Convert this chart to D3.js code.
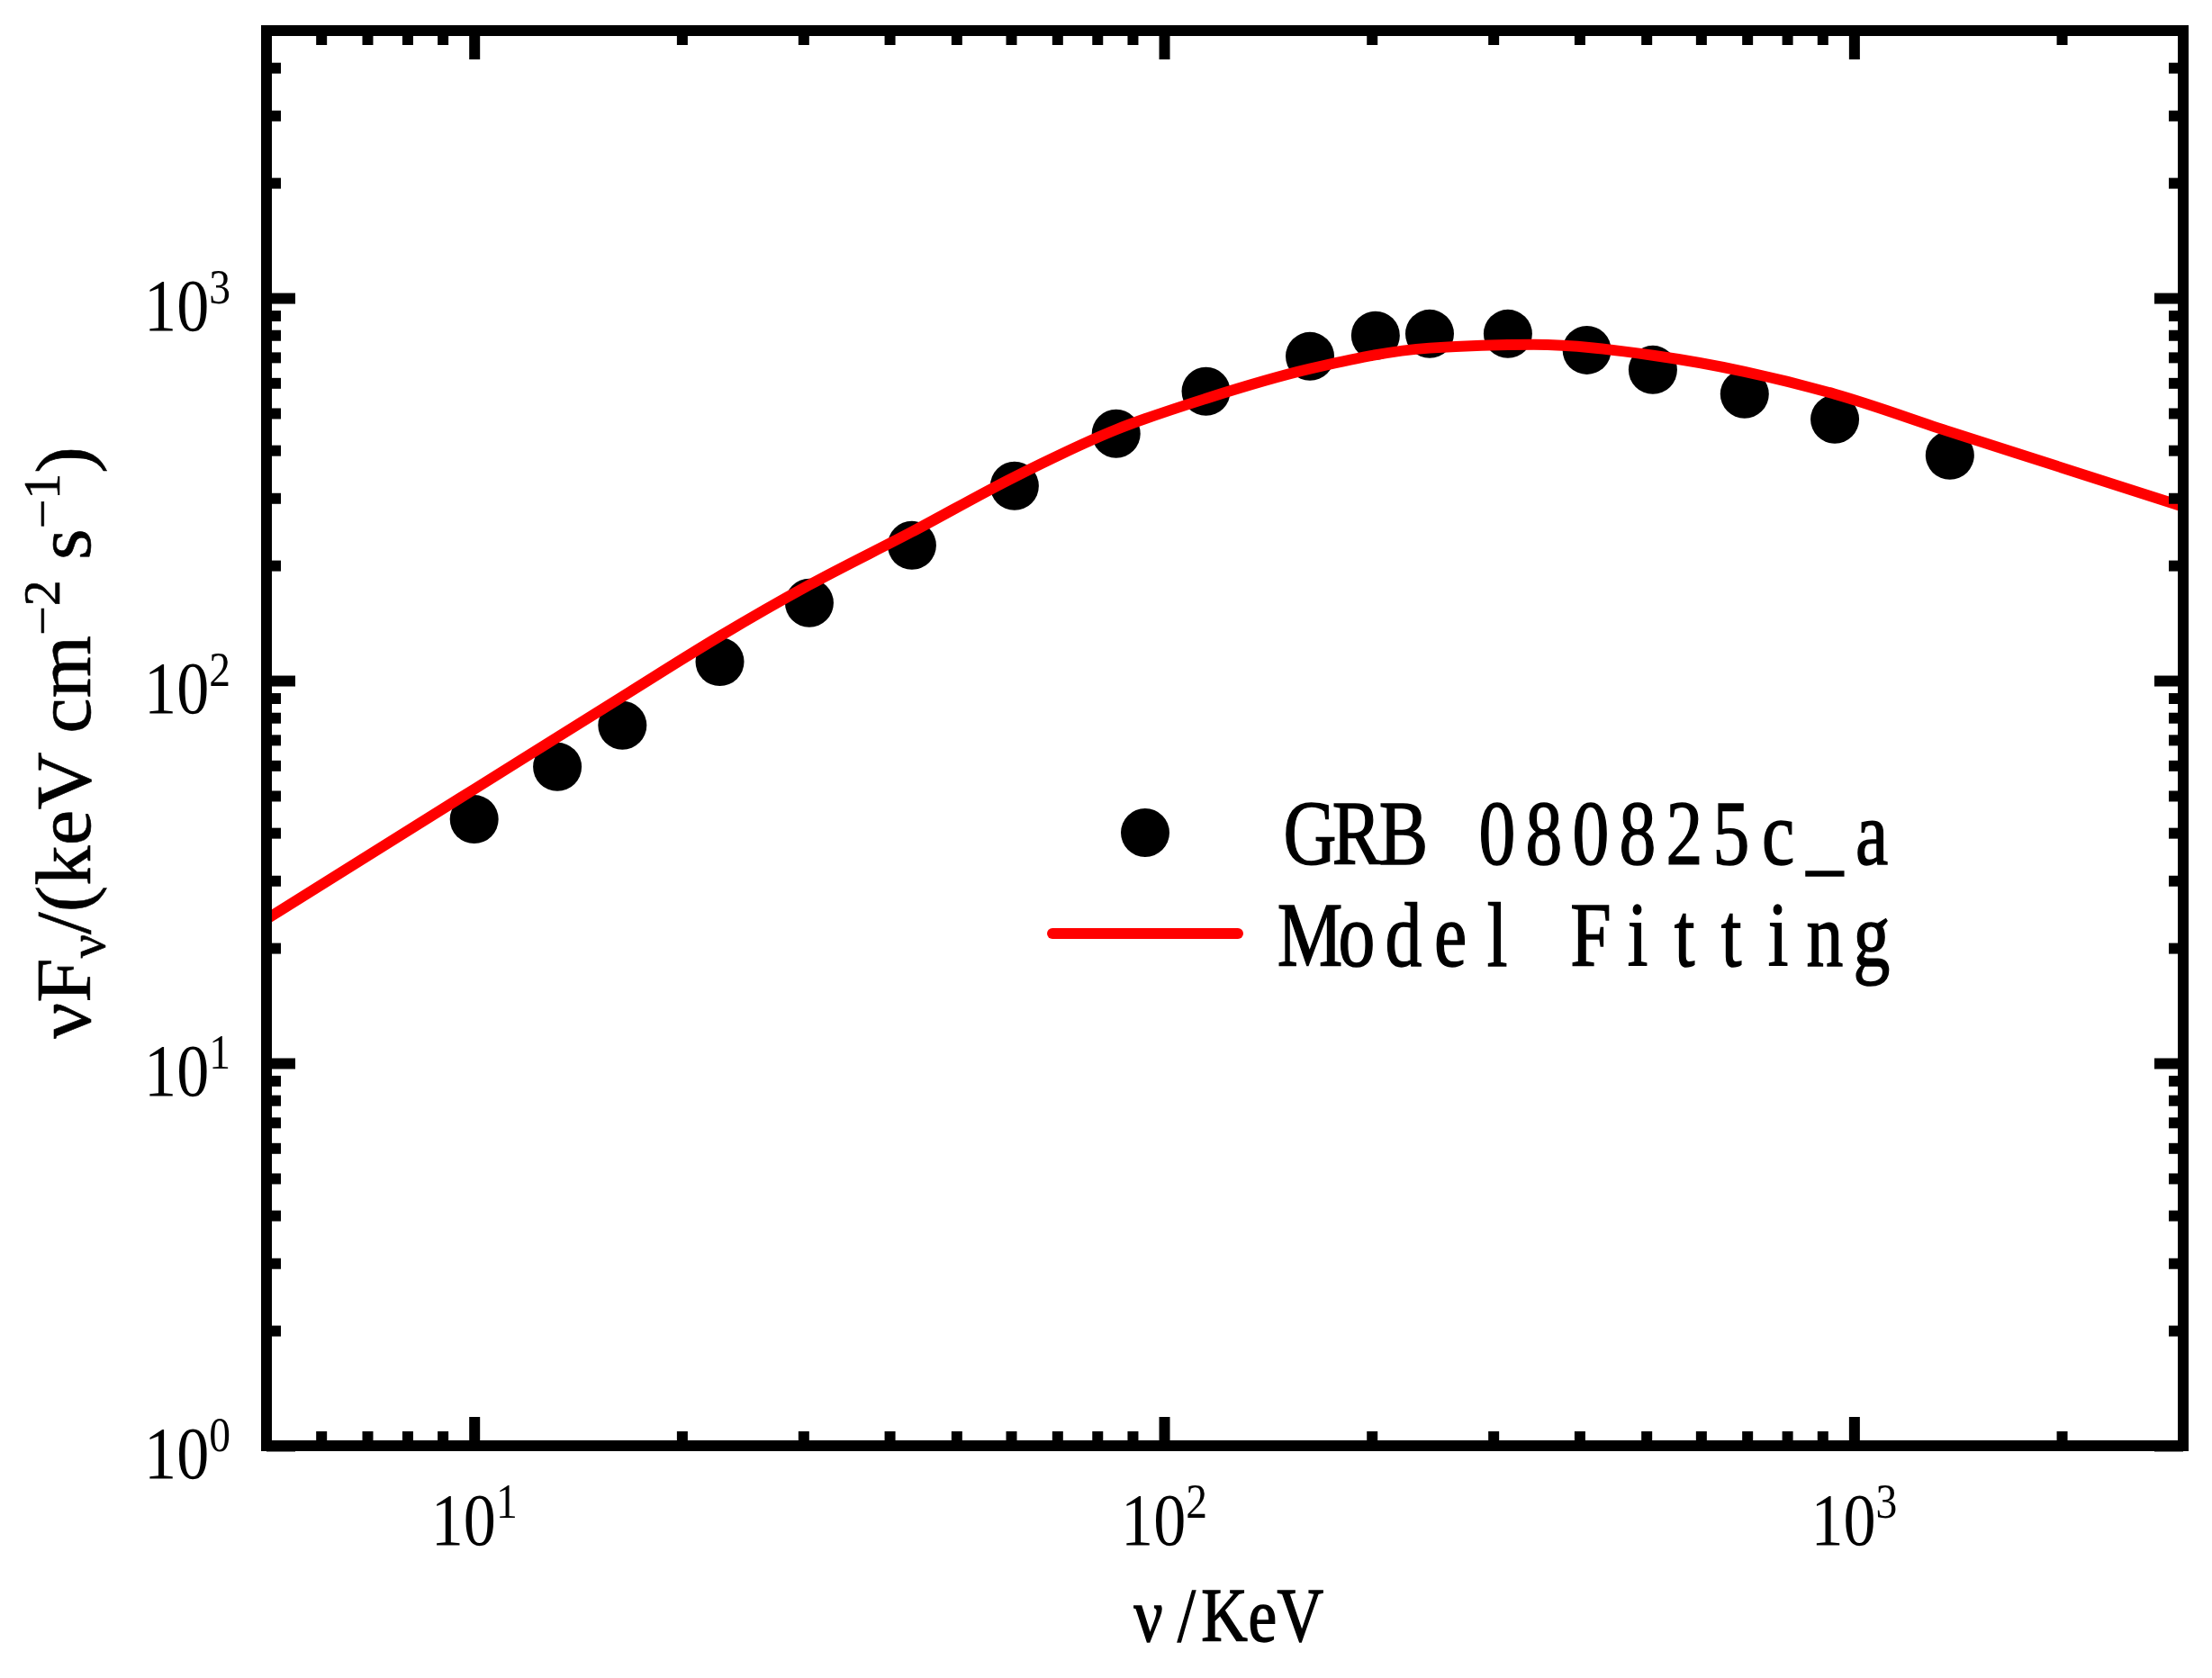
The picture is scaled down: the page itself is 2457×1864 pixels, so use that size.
<!DOCTYPE html>
<html>
<head>
<meta charset="utf-8">
<script src="https://cdn.jsdelivr.net/npm/d3@7"></script>
<style>
  body { margin: 0; background: #fff; }
  svg { display: block; }
</style>
</head>
<body>
<script>
// observed spectrum (keV, keV cm^-2 s^-1)
var obsX = [10.0, 13.2, 16.4, 22.7, 30.6, 43.1, 60.7, 85.2, 115, 162.7, 202.5, 242.6, 315, 410, 511, 694, 938, 1377];
var obsY = [43.4, 59.5, 76.4, 112, 159.6, 225.7, 322.7, 442, 570, 704, 798, 806, 806, 731, 649, 561, 482, 388];

// model curve
var fitX = [5, 10, 16.4, 22.7, 30.6, 43.1, 60.7, 85.2, 115, 162.7, 242.6, 343.6, 511, 694, 937.6, 1377, 3000];
var fitY = [23.8, 52, 90.8, 130.6, 177.8, 244.8, 340.7, 452.9, 546, 653, 740, 756, 708, 642, 561, 447, 285];

// ticks
var xMajor = [10, 100, 1000];
var xMajorExp = ["1", "2", "3"];
var xMinor = [6, 7, 8, 9, 20, 30, 40, 50, 60, 70, 80, 90, 200, 300, 400, 500, 600, 700, 800, 900, 2000];
var yMajor = [1, 10, 100, 1000];
var yMajorExp = ["0", "1", "2", "3"];
var yMinor = [2, 3, 4, 5, 6, 7, 8, 9, 20, 30, 40, 50, 60, 70, 80, 90,
              200, 300, 400, 500, 600, 700, 800, 900, 2000, 3000, 4000];

var legendLabels = ["GRB 080825c_a", "Model Fitting"];

var W = 2457, H = 1864;
var margin = {left: 296, right: 32, top: 34, bottom: 258};
var serif = "'Liberation Serif', 'Times New Roman', serif";

var svg = d3.select("body").append("svg")
    .attr("width", W)
    .attr("height", H);

var x = d3.scaleLog().domain([5, 3000]).range([margin.left, W - margin.right]);
var y = d3.scaleLog().domain([1, 5000]).range([H - margin.bottom, margin.top]);

var x0 = x.range()[0], x1 = x.range()[1];
var y0 = y.range()[0], y1 = y.range()[1];

svg.append("clipPath").attr("id", "plotclip")
  .append("rect")
    .attr("x", x0).attr("y", y1)
    .attr("width", x1 - x0).attr("height", y0 - y1);

// data points
svg.append("g")
  .selectAll("circle")
  .data(d3.zip(obsX, obsY))
  .enter()
  .append("circle")
    .attr("cx", d => x(d[0]))
    .attr("cy", d => y(d[1]))
    .attr("r", 27)
    .attr("fill", "#000");

// model line on top
var line = d3.line()
    .x(d => x(d[0]))
    .y(d => y(d[1]))
    .curve(d3.curveMonotoneX);

svg.append("path")
    .datum(d3.zip(fitX, fitY))
    .attr("clip-path", "url(#plotclip)")
    .attr("d", line)
    .attr("fill", "none")
    .attr("stroke", "#ff0000")
    .attr("stroke-width", 12);

// inward ticks on all four sides
function drawTicks(axisFn, scale, values, len, tx, ty) {
    var g = svg.append("g")
        .attr("transform", `translate(${tx},${ty})`)
        .call(axisFn(scale).tickValues(values).tickSize(-len).tickFormat(""));
    g.select(".domain").remove();
    g.selectAll("line").attr("stroke", "#000").attr("stroke-width", 12);
}
drawTicks(d3.axisBottom, x, xMajor, 32, 0, y0);
drawTicks(d3.axisBottom, x, xMinor, 16, 0, y0);
drawTicks(d3.axisTop, x, xMajor, 32, 0, y1);
drawTicks(d3.axisTop, x, xMinor, 16, 0, y1);
drawTicks(d3.axisLeft, y, yMajor, 32, x0, 0);
drawTicks(d3.axisLeft, y, yMinor, 16, x0, 0);
drawTicks(d3.axisRight, y, yMajor, 32, x1, 0);
drawTicks(d3.axisRight, y, yMinor, 16, x1, 0);

svg.append("rect")
    .attr("x", x0).attr("y", y1)
    .attr("width", x1 - x0).attr("height", y0 - y1)
    .attr("fill", "none")
    .attr("stroke", "#000")
    .attr("stroke-width", 12);

// tick labels 10^n
function powLabel(tx, ty, anchor, exp) {
    var t = svg.append("text")
        .attr("transform", `translate(${tx},${ty}) scale(0.88,1)`)
        .attr("text-anchor", anchor)
        .attr("font-family", serif)
        .attr("font-size", 82)
        .attr("fill", "#000");
    t.append("tspan").text("10");
    t.append("tspan").attr("font-size", 54).attr("dy", -30).text(exp);
}
xMajor.forEach((v, i) => powLabel(x(v), y0 + 110, "middle", xMajorExp[i]));
yMajor.forEach((v, i) => powLabel(x0 - 40, y(v) + 36, "end", yMajorExp[i]));

// evenly spaced glyphs, like a monospaced font
function monoText(str, left, base, adv, size, sx) {
    var pos = str.split("").map((c, i) => (((i + 0.5) * adv) / sx).toFixed(1)).join(" ");
    svg.append("text")
        .attr("transform", `translate(${left},${base}) scale(${sx},1)`)
        .attr("x", pos)
        .attr("y", 0)
        .attr("text-anchor", "middle")
        .attr("font-family", serif)
        .attr("font-size", size)
        .attr("fill", "#000")
        .attr("stroke", "#000")
        .attr("stroke-width", 1.5)
        .text(str);
}

// x axis title
monoText("ν/KeV", (x0 + x1) / 2 - 106, 1823, 42.2, 84, 0.85);

// y axis title, squeezed to the measured length
var yt = svg.append("text")
    .attr("text-anchor", "middle")
    .attr("font-family", serif)
    .attr("font-size", 86)
    .attr("fill", "#000")
    .attr("stroke", "#000")
    .attr("stroke-width", 0.6);
yt.append("tspan").text("νF");
yt.append("tspan").attr("font-size", 56).attr("dy", 16).text("ν");
yt.append("tspan").attr("dy", -16).text("/(keV cm");
yt.append("tspan").attr("font-size", 56).attr("dy", -34).text("−2");
yt.append("tspan").attr("dy", 34).text(" s");
yt.append("tspan").attr("font-size", 56).attr("dy", -34).text("−1");
yt.append("tspan").attr("dy", 34).text(")");
var ytLen = yt.node().getComputedTextLength();
var ytScale = 658 / ytLen;
yt.attr("transform", `translate(100,${(y0 + y1) / 2 + 5}) rotate(-90) scale(${ytScale},1)`);

// legend
svg.append("circle")
    .attr("cx", 1272).attr("cy", 925).attr("r", 27)
    .attr("fill", "#000");
svg.append("line")
    .attr("x1", 1169).attr("x2", 1375)
    .attr("y1", 1037).attr("y2", 1037)
    .attr("stroke", "#ff0000")
    .attr("stroke-width", 12)
    .attr("stroke-linecap", "round");
monoText(legendLabels[0], 1429, 960, 52, 102, 0.8);
monoText(legendLabels[1], 1429, 1073, 52, 102, 0.8);
</script>
</body>
</html>
